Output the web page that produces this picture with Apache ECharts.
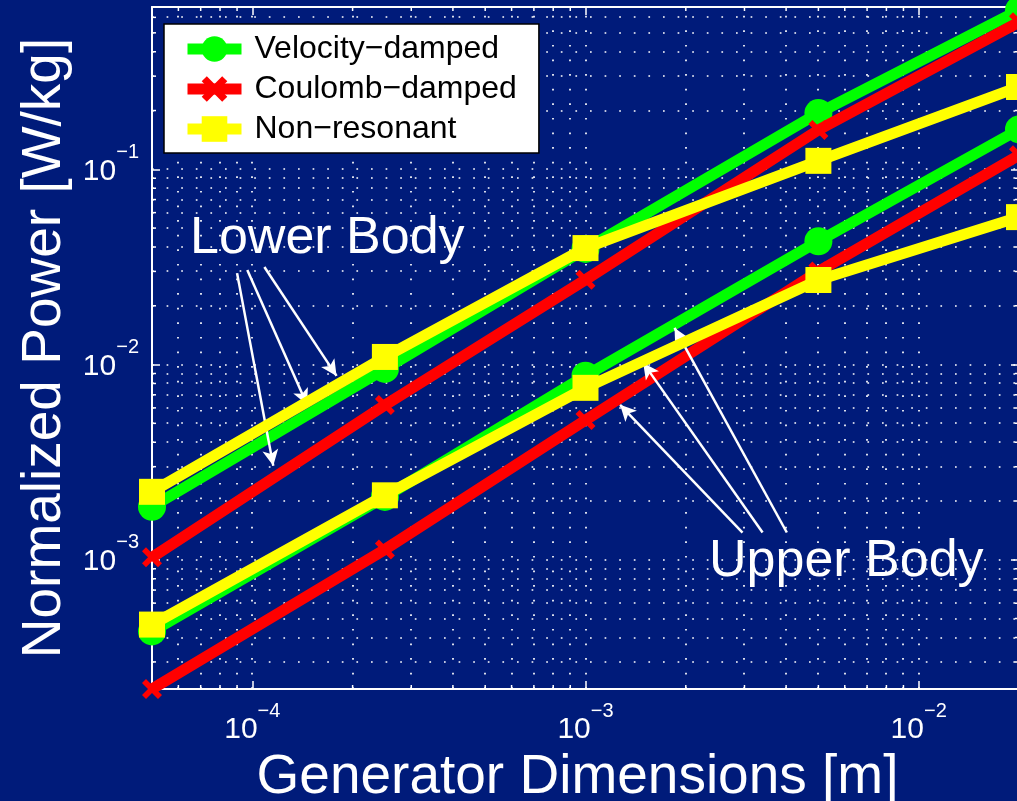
<!DOCTYPE html>
<html><head><meta charset="utf-8">
<script src="https://cdn.jsdelivr.net/npm/echarts@6/dist/echarts.min.js"></script>
<style>html,body{margin:0;padding:0;background:#001b7a;} #c{width:1017px;height:801px;}</style>
</head><body><div id="c"></div>
<script>
// ---------------- data ----------------
const xValues = [5e-5, 2.5e-4, 1e-3, 5e-3, 2e-2];
const lowerVelocity = [1.87e-3, 9.5e-3, 0.0391, 0.194, 0.653];
const lowerCoulomb  = [1.03e-3, 6.2e-3, 0.0272, 0.159, 0.567];
const lowerNonres   = [2.23e-3, 0.01094, 0.0395, 0.1105, 0.264];
const upperVelocity = [4.3e-4, 2.1e-3, 8.77e-3, 0.0428, 0.16];
const upperCoulomb  = [2.18e-4, 1.13e-3, 5.2e-3, 0.0300, 0.118];
const upperNonres   = [4.66e-4, 2.14e-3, 7.6e-3, 0.0271, 0.0569];
const seriesNames = ['Velocity\u2212damped', 'Coulomb\u2212damped', 'Non\u2212resonant'];
const xRange = [5e-5, 2e-2];
const yRange = [2.18e-4, 0.678];
const xTitle = 'Generator Dimensions [m]';
const yTitle = 'Normalized Power [W/kg]';
const lowerLabel = 'Lower Body';
const upperLabel = 'Upper Body';
// annotation arrows in data coordinates: [start, end]
const lowerArrows = [
  [[9.0e-5, 0.0294], [1.156e-4, 3.03e-3]],
  [[9.66e-5, 0.0305], [1.46e-4, 6.22e-3]],
  [[1.087e-4, 0.0316], [1.79e-4, 8.75e-3]]
];
const upperArrows = [
  [[2.96e-3, 1.38e-3], [1.27e-3, 6.22e-3]],
  [[3.40e-3, 1.38e-3], [1.49e-3, 0.0102]],
  [[4.02e-3, 1.38e-3], [1.85e-3, 0.0154]]
];
// --------------------------------------

const FONT = '"Liberation Sans", Arial, Helvetica, sans-serif';
const WHITE = '#ffffff';
const BG = '#001b7a';
const GREEN = '#00ff00', RED = '#ff0000', YELLOW = '#ffff00';
const xSymbol = 'path://M0,4 L4,0 L10,6 L16,0 L20,4 L14,10 L20,16 L16,20 L10,14 L4,20 L0,16 L6,10 Z';

function isPow10(v) { const l = Math.log10(v); return Math.abs(l - Math.round(l)) < 1e-6; }
function supLabel(v) {
  if (!isPow10(v)) return '';
  const e = Math.round(Math.log10(v));
  return '{base|10}{sup|' + (e < 0 ? '\u2212' + (-e) : e) + '}';
}
function decadeValues(range, mStart) {
  const out = [];
  for (let k = -6; k <= 1; k++) for (let m = mStart; m <= 9; m++) {
    const v = m * Math.pow(10, k);
    if (v > range[0] * 1.0001 && v < range[1] * 0.9999) out.push(v);
  }
  return out;
}
const richLabel = {
  base: { fontSize: 30, lineHeight: 44, color: WHITE, fontFamily: FONT, verticalAlign: 'bottom' },
  sup: { fontSize: 20, lineHeight: 20, color: WHITE, fontFamily: FONT, verticalAlign: 'top' }
};
const axisLineStyle = { show: true, lineStyle: { color: WHITE, width: 2 } };
const tickStyle = { show: true, inside: true, length: 8, lineStyle: { color: WHITE, width: 1.5 } };

function mk(name, data, color, symbol, size, z) {
  return {
    name, type: 'line', z,
    data: xValues.map((x, i) => [x, data[i]]),
    lineStyle: { color, width: 11, cap: 'butt', join: 'miter' },
    itemStyle: { color },
    symbol, symbolSize: size, showSymbol: true, clip: false,
    emphasis: { disabled: true }, silent: true
  };
}
function arrowLines(list) {
  return list.map(a => [{ coord: a[0] }, { coord: a[1] }]);
}

const chart = echarts.init(document.getElementById('c'), null, { renderer: 'canvas' });
const option = {
  backgroundColor: BG,
  animation: false,
  textStyle: { fontFamily: FONT },
  grid: { left: 152, top: 7, right: -2, bottom: 112, containLabel: false, outerBoundsMode: 'none' },
  legend: {
    data: seriesNames, orient: 'vertical', left: 164, top: 24,
    backgroundColor: '#ffffff', borderColor: '#000000', borderWidth: 1.5, borderRadius: 0,
    padding: [9, 22, 8, 18], itemWidth: 54, itemHeight: 32, itemGap: 8,
    selectedMode: false,
    lineStyle: { width: 11 },
    textStyle: { fontSize: 32, color: '#000000', fontFamily: FONT, padding: [0, 0, 0, 8] }
  },
  xAxis: [
    {
      type: 'log', logBase: 10, min: xRange[0], max: xRange[1], position: 'bottom',
      axisLine: axisLineStyle, axisTick: tickStyle,
      axisLabel: { show: true, margin: 12, fontSize: 30, color: WHITE, fontFamily: FONT, formatter: supLabel, rich: richLabel },
      splitLine: { show: false }, minorTick: { show: false },
      name: xTitle, nameLocation: 'middle', nameGap: 58,
      nameTextStyle: { fontSize: 55, color: WHITE, fontFamily: FONT, padding: [0, 16, 0, 0] }
    },
    {
      type: 'log', logBase: 10, min: xRange[0], max: xRange[1], position: 'top',
      axisLine: axisLineStyle, axisTick: tickStyle, axisLabel: { show: false }, splitLine: { show: false }
    }
  ],
  yAxis: [
    {
      type: 'log', logBase: 10, min: yRange[0], max: yRange[1], position: 'left',
      axisLine: axisLineStyle, axisTick: tickStyle,
      axisLabel: { show: true, margin: 13, fontSize: 30, color: WHITE, fontFamily: FONT, formatter: supLabel, rich: richLabel, padding: [0, 0, 10, 0] },
      splitLine: { show: false },
      name: yTitle, nameLocation: 'middle', nameGap: 72, nameRotate: 90,
      nameTextStyle: { fontSize: 55, color: WHITE, fontFamily: FONT }
    },
    {
      type: 'log', logBase: 10, min: yRange[0], max: yRange[1], position: 'right',
      axisLine: axisLineStyle, axisTick: tickStyle, axisLabel: { show: false }, splitLine: { show: false }
    }
  ],
  series: [
    mk(seriesNames[0], lowerVelocity, GREEN, 'circle', 28, 3),
    mk(seriesNames[0], upperVelocity, GREEN, 'circle', 28, 3),
    mk(seriesNames[1], lowerCoulomb, RED, xSymbol, 20, 4),
    mk(seriesNames[1], upperCoulomb, RED, xSymbol, 20, 4),
    mk(seriesNames[2], lowerNonres, YELLOW, 'rect', 26, 5),
    mk(seriesNames[2], upperNonres, YELLOW, 'rect', 26, 5),
    {
      type: 'line', data: [], z: 10, silent: true, symbol: 'none',
      markLine: {
        silent: true, symbol: ['none', 'arrow'], symbolSize: [12, 16], label: { show: false }, animation: false,
        lineStyle: { color: WHITE, width: 2.5, type: 'solid', opacity: 1 },
        emphasis: { disabled: true },
        data: arrowLines(lowerArrows).concat(arrowLines(upperArrows))
      }
    }
  ]
};
chart.setOption(option);

// dotted log grid, minor ticks on the four sides, and annotation text
function addExtras() {
  const px = v => chart.convertToPixel({ xAxisIndex: 0 }, v);
  const py = v => chart.convertToPixel({ yAxisIndex: 0 }, v);
  const L = px(xRange[0]), R = px(xRange[1]), B = py(yRange[0]), T = py(yRange[1]);
  const els = [];
  const tick = { stroke: WHITE, lineWidth: 1.5 };
  const dot = { stroke: WHITE, lineWidth: 1.7, lineDash: [1.7, 12.9] };
  const len = 4;
  decadeValues(xRange, 1).forEach(v => {
    const x = Math.round(px(v));
    els.push({ type: 'line', silent: true, z: 1, shape: { x1: x, y1: B, x2: x, y2: T }, style: dot });
  });
  decadeValues(yRange, 1).forEach(v => {
    const y = Math.round(py(v));
    els.push({ type: 'line', silent: true, z: 1, shape: { x1: L, y1: y, x2: R, y2: y }, style: dot });
  });
  decadeValues(xRange, 2).forEach(v => {
    const x = px(v);
    els.push({ type: 'line', silent: true, z: 1, shape: { x1: x, y1: B, x2: x, y2: B - len }, style: tick });
    els.push({ type: 'line', silent: true, z: 1, shape: { x1: x, y1: T, x2: x, y2: T + len }, style: tick });
  });
  decadeValues(yRange, 2).forEach(v => {
    const y = py(v);
    els.push({ type: 'line', silent: true, z: 1, shape: { x1: L, y1: y, x2: L + len, y2: y }, style: tick });
    els.push({ type: 'line', silent: true, z: 1, shape: { x1: R, y1: y, x2: R - len, y2: y }, style: tick });
  });
  els.push({ type: 'text', silent: true, z: 20, style: { text: lowerLabel, x: 190, y: 239, fill: WHITE, font: '52px ' + FONT, textAlign: 'left', verticalAlign: 'middle' } });
  els.push({ type: 'text', silent: true, z: 20, style: { text: upperLabel, x: 709, y: 562, fill: WHITE, font: '52px ' + FONT, textAlign: 'left', verticalAlign: 'middle' } });
  chart.setOption({ graphic: { elements: els } });
}
addExtras();
</script>
</body></html>
